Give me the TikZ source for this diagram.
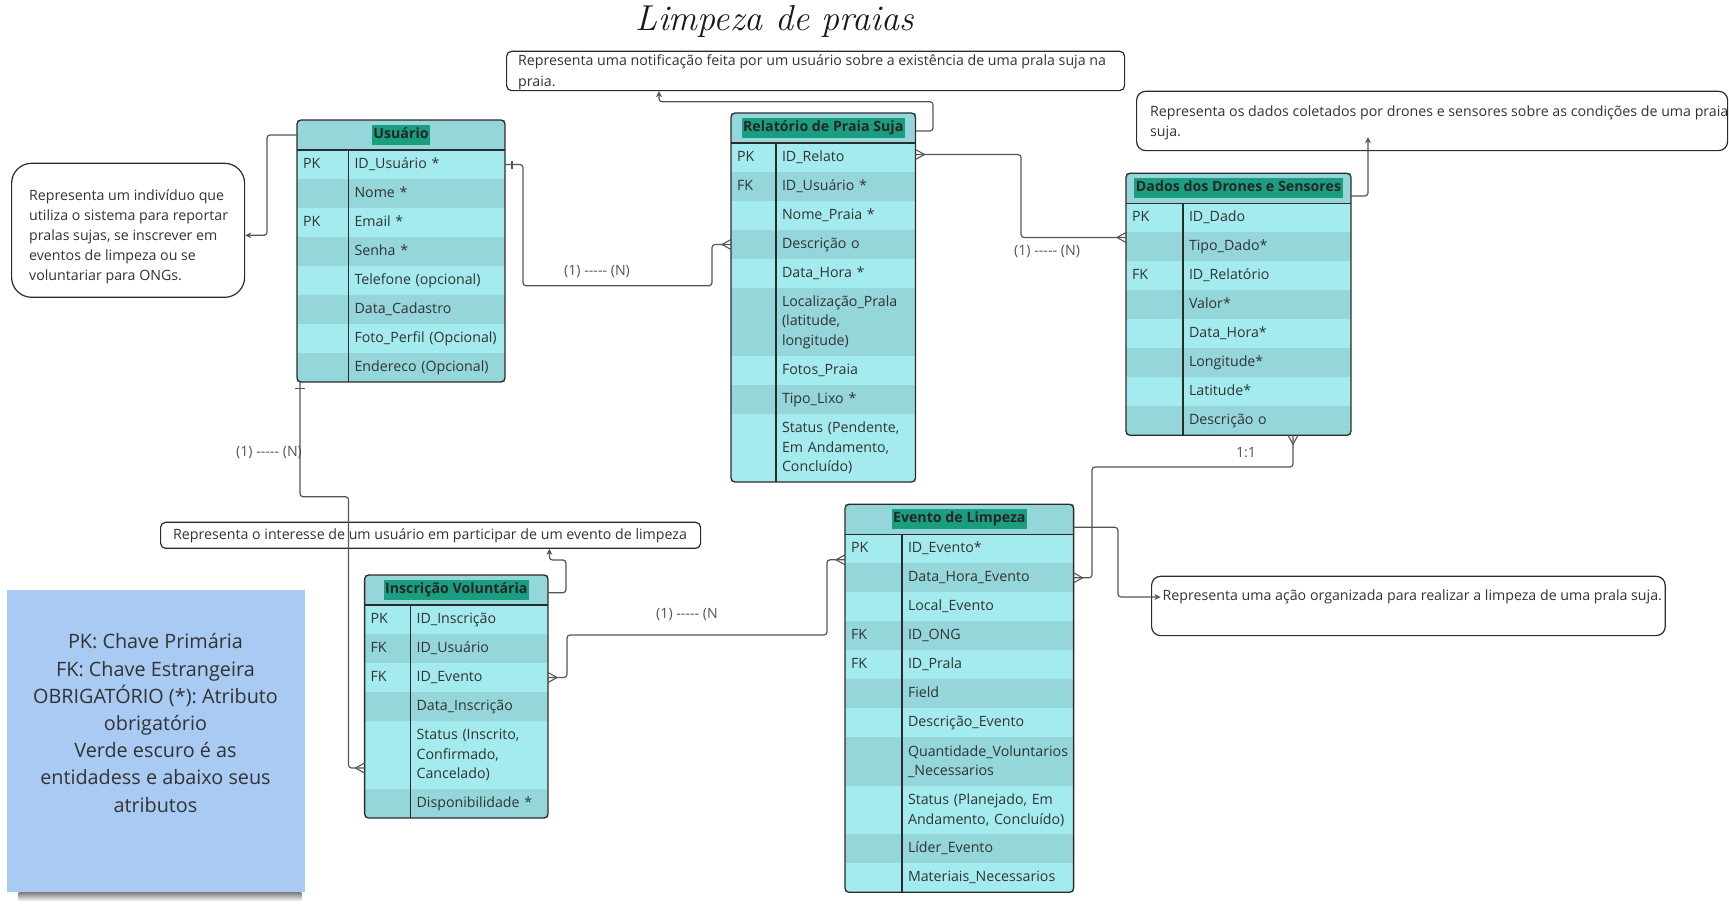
\documentclass[tikz,border=0pt]{standalone}
\usepackage{fontspec}
\newfontfamily\osans{Open Sans}
\usetikzlibrary{positioning,arrows.meta}
\frenchspacing

\definecolor{rowlt}{HTML}{A3EBEF}
\definecolor{rowdk}{HTML}{94D6DA}
\definecolor{hl}{HTML}{1B9E80}
\definecolor{ink}{HTML}{333333}
\definecolor{edge}{HTML}{2B2B2B}
\definecolor{wire}{HTML}{555555}
\definecolor{lgblue}{HTML}{A9CBF3}

\newcommand\cellfont{\osans\fontsize{14.2}{19.5}\selectfont}
\newcommand\notefont{\osans\fontsize{14.2}{20.2}\selectfont}
\newcommand\stickyfont{\osans\fontsize{19.8}{27.2}\selectfont}

\tikzset{
  cell/.style={anchor=north west, inner xsep=6pt, inner ysep=0pt, outer sep=0pt, minimum height=29pt,
    align=left, font=\cellfont, text=ink},
  one/.style={cell, text height=10.5pt, text depth=3.3pt},
  tall/.style={minimum height=68pt},
  mid/.style={minimum height=48.5pt},
  lt/.style={fill=rowlt},
  dk/.style={fill=rowdk},
  hdr/.style={fill=rowdk, anchor=north west, minimum height=30pt, inner sep=0pt, outer sep=0pt},
  ttl/.style={fill=hl, font=\cellfont\bfseries, text=black!85, inner xsep=1.5pt, inner ysep=3pt,
    text height=10.5pt, text depth=3.3pt},
  boxline/.style={draw=edge, line width=1.3pt, rounded corners=4pt},
  rule/.style={draw=edge, line width=1.2pt},
  ku/.style={text width=39.5pt}, vu/.style={text width=144.5pt},
  kr/.style={text width=33pt},   vr/.style={text width=127.5pt},
  ks/.style={text width=45pt},   vs/.style={text width=156pt},
  ke/.style={text width=45pt},   ve/.style={text width=159.6pt},
  ki/.style={text width=34pt},   vi/.style={text width=125.4pt},
  notebox/.style={draw=edge, line width=1.2pt, fill=white, anchor=north west, inner sep=0pt},
  notetext/.style={font=\notefont, text=ink, align=left, anchor=west, inner sep=0pt},
  sticky/.style={fill=lgblue, anchor=north west, inner sep=0pt},
  link/.style={draw=wire, line width=1.2pt, rounded corners=3pt},
  pointer/.style={-{Stealth[length=6pt,width=6pt]}},
  onemark/.style={draw=wire, line width=1.1pt},
  card/.style={font=\cellfont, text=wire, inner sep=1pt},
  crow/.pic={\draw[wire, line width=1.1pt] (0,-5) -- (-9,0) -- (0,5);},
}

\begin{document}
\begin{tikzpicture}[x=1pt,y=-1pt]
  \useasboundingbox (0,0) rectangle (1729,903);

  \node[font=\fontsize{36}{38}\selectfont\itshape, text=black!90, anchor=base] (title) at (775,30) {Limpeza de praias};

  % notas
  \node[notebox, minimum width=618pt, minimum height=39.3pt, rounded corners=5pt] (nR) at (506,50.7) {};
  \node[notetext] (nRt) at (518,72.25) {Representa uma notificação feita por um usuário sobre a existência de uma prala suja na\\praia.};
  \node[notebox, minimum width=233pt, minimum height=134pt, rounded corners=20pt] (nU) at (11,162.7) {};
  \node[notetext] (nUt) at (29,236.75) {Representa um indivíduo que\\utiliza o sistema para reportar\\pralas sujas, se inscrever em\\eventos de limpeza ou se\\voluntariar para ONGs.};
  \node[notebox, minimum width=591pt, minimum height=59.3pt, rounded corners=9pt] (nD) at (1136,90.7) {};
  \node[notetext] (nDt) at (1150,122.6) {Representa os dados coletados por drones e sensores sobre as condições de uma praia\\suja.};
  \node[notebox, minimum width=540pt, minimum height=26pt, rounded corners=5pt] (nI) at (160,521.7) {};
  \node[notetext] (nIt) at (173,536) {Representa o interesse de um usuário em participar de um evento de limpeza};
  \node[notebox, minimum width=513.6pt, minimum height=59.3pt, rounded corners=9pt] (nE) at (1151,575.7) {};
  \node[notetext] (nEt) at (1162.5,597) {Representa uma ação organizada para realizar a limpeza de uma prala suja.};

  % legenda
  \node[sticky, minimum width=298.3pt, minimum height=302pt] (lg) at (6.7,590) {};
  \shade[top color=black!50, bottom color=white] ([xshift=12]lg.south west) rectangle ([xshift=-4,yshift=-9]lg.south east);
  \node[font=\stickyfont, text=ink, align=center] (lgt) at (155.5,723) {PK: Chave Primária\\FK: Chave Estrangeira\\OBRIGATÓRIO (*): Atributo\\obrigatório\\Verde escuro é as\\entidadess e abaixo seus\\atributos};

  % Usuario
  \node[hdr, minimum width=208pt] (uh) at (297,120) {};
  \node[ttl] (uht) at (uh) {Usuário};
  \node[one,lt,ku,below right=0pt and 0pt of uh.south west] (uk1) {PK};
  \node[one,lt,vu,right=0pt of uk1] (u1) {ID\_Usuário *};
  \node[one,dk,ku,below=0pt of uk1] (uk2) {};
  \node[one,dk,vu,right=0pt of uk2] (u2) {Nome *};
  \node[one,lt,ku,below=0pt of uk2] (uk3) {PK};
  \node[one,lt,vu,right=0pt of uk3] (u3) {Email *};
  \node[one,dk,ku,below=0pt of uk3] (uk4) {};
  \node[one,dk,vu,right=0pt of uk4] (u4) {Senha *};
  \node[one,lt,ku,below=0pt of uk4] (uk5) {};
  \node[one,lt,vu,right=0pt of uk5] (u5) {Telefone (opcional)};
  \node[one,dk,ku,below=0pt of uk5] (uk6) {};
  \node[one,dk,vu,right=0pt of uk6] (u6) {Data\_Cadastro};
  \node[one,lt,ku,below=0pt of uk6] (uk7) {};
  \node[one,lt,vu,right=0pt of uk7] (u7) {Foto\_Perfil (Opcional)};
  \node[one,dk,ku,below=0pt of uk7] (uk8) {};
  \node[one,dk,vu,right=0pt of uk8] (u8) {Endereco (Opcional)};
  \draw[boxline] (uh.north west) rectangle (u8.south east);
  \draw[rule] (uh.south west) -- (uh.south east);
  \draw[rule] (uk1.north east) -- (uk8.south east);

  % Relatorio de Praia Suja
  \node[hdr, minimum width=184.5pt] (rh) at (731,113) {};
  \node[ttl] (rht) at (rh) {Relatório de Praia Suja};
  \node[one,lt,kr,below right=0pt and 0pt of rh.south west] (rk1) {PK};
  \node[one,lt,vr,right=0pt of rk1] (r1) {ID\_Relato};
  \node[one,dk,kr,below=0pt of rk1] (rk2) {FK};
  \node[one,dk,vr,right=0pt of rk2] (r2) {ID\_Usuário *};
  \node[one,lt,kr,below=0pt of rk2] (rk3) {};
  \node[one,lt,vr,right=0pt of rk3] (r3) {Nome\_Praia *};
  \node[one,dk,kr,below=0pt of rk3] (rk4) {};
  \node[one,dk,vr,right=0pt of rk4] (r4) {Descrição o};
  \node[one,lt,kr,below=0pt of rk4] (rk5) {};
  \node[one,lt,vr,right=0pt of rk5] (r5) {Data\_Hora *};
  \node[cell,dk,kr,tall,below=0pt of rk5] (rk6) {};
  \node[cell,dk,vr,tall,right=0pt of rk6] (r6) {Localização\_Prala\\(latitude,\\longitude)};
  \node[one,lt,kr,below=0pt of rk6] (rk7) {};
  \node[one,lt,vr,right=0pt of rk7] (r7) {Fotos\_Praia};
  \node[one,dk,kr,below=0pt of rk7] (rk8) {};
  \node[one,dk,vr,right=0pt of rk8] (r8) {Tipo\_Lixo *};
  \node[cell,lt,kr,tall,below=0pt of rk8] (rk9) {};
  \node[cell,lt,vr,tall,right=0pt of rk9] (r9) {Status (Pendente,\\Em Andamento,\\Concluído)};
  \draw[boxline] (rh.north west) rectangle (r9.south east);
  \draw[rule] (rh.south west) -- (rh.south east);
  \draw[rule] (rk1.north east) -- (rk9.south east);

  % Dados dos Drones e Sensores
  \node[hdr, minimum width=225pt] (sh) at (1126,173.3) {};
  \node[ttl] (sht) at (sh) {Dados dos Drones e Sensores};
  \node[one,lt,ks,below right=0pt and 0pt of sh.south west] (sk1) {PK};
  \node[one,lt,vs,right=0pt of sk1] (s1) {ID\_Dado};
  \node[one,dk,ks,below=0pt of sk1] (sk2) {};
  \node[one,dk,vs,right=0pt of sk2] (s2) {Tipo\_Dado*};
  \node[one,lt,ks,below=0pt of sk2] (sk3) {FK};
  \node[one,lt,vs,right=0pt of sk3] (s3) {ID\_Relatório};
  \node[one,dk,ks,below=0pt of sk3] (sk4) {};
  \node[one,dk,vs,right=0pt of sk4] (s4) {Valor*};
  \node[one,lt,ks,below=0pt of sk4] (sk5) {};
  \node[one,lt,vs,right=0pt of sk5] (s5) {Data\_Hora*};
  \node[one,dk,ks,below=0pt of sk5] (sk6) {};
  \node[one,dk,vs,right=0pt of sk6] (s6) {Longitude*};
  \node[one,lt,ks,below=0pt of sk6] (sk7) {};
  \node[one,lt,vs,right=0pt of sk7] (s7) {Latitude*};
  \node[one,dk,ks,below=0pt of sk7] (sk8) {};
  \node[one,dk,vs,right=0pt of sk8] (s8) {Descrição o};
  \draw[boxline] (sh.north west) rectangle (s8.south east);
  \draw[rule] (sh.south west) -- (sh.south east);
  \draw[rule] (sk1.north east) -- (sk8.south east);

  % Evento de Limpeza
  \node[hdr, minimum width=228.6pt] (eh) at (845,504.3) {};
  \node[ttl] (eht) at (eh) {Evento de Limpeza};
  \node[one,lt,ke,below right=0pt and 0pt of eh.south west] (ek1) {PK};
  \node[one,lt,ve,right=0pt of ek1] (e1) {ID\_Evento*};
  \node[one,dk,ke,below=0pt of ek1] (ek2) {};
  \node[one,dk,ve,right=0pt of ek2] (e2) {Data\_Hora\_Evento};
  \node[one,lt,ke,below=0pt of ek2] (ek3) {};
  \node[one,lt,ve,right=0pt of ek3] (e3) {Local\_Evento};
  \node[one,dk,ke,below=0pt of ek3] (ek4) {FK};
  \node[one,dk,ve,right=0pt of ek4] (e4) {ID\_ONG};
  \node[one,lt,ke,below=0pt of ek4] (ek5) {FK};
  \node[one,lt,ve,right=0pt of ek5] (e5) {ID\_Prala};
  \node[one,dk,ke,below=0pt of ek5] (ek6) {};
  \node[one,dk,ve,right=0pt of ek6] (e6) {Field};
  \node[one,lt,ke,below=0pt of ek6] (ek7) {};
  \node[one,lt,ve,right=0pt of ek7] (e7) {Descrição\_Evento};
  \node[cell,dk,ke,mid,below=0pt of ek7] (ek8) {};
  \node[cell,dk,ve,mid,right=0pt of ek8] (e8) {Quantidade\_Voluntarios\\\_Necessarios};
  \node[cell,lt,ke,mid,below=0pt of ek8] (ek9) {};
  \node[cell,lt,ve,mid,right=0pt of ek9] (e9) {Status (Planejado, Em\\Andamento, Concluído)};
  \node[one,dk,ke,below=0pt of ek9] (ek10) {};
  \node[one,dk,ve,right=0pt of ek10] (e10) {Líder\_Evento};
  \node[one,lt,ke,below=0pt of ek10] (ek11) {};
  \node[one,lt,ve,right=0pt of ek11] (e11) {Materiais\_Necessarios};
  \draw[boxline] (eh.north west) rectangle (e11.south east);
  \draw[rule] (eh.south west) -- (eh.south east);
  \draw[rule] (ek1.north east) -- (ek11.south east);

  % Inscricao Voluntaria
  \node[hdr, minimum width=183.4pt] (ih) at (364.6,575) {};
  \node[ttl] (iht) at (ih) {Inscrição Voluntária};
  \node[one,lt,ki,below right=0pt and 0pt of ih.south west] (ik1) {PK};
  \node[one,lt,vi,right=0pt of ik1] (i1) {ID\_Inscrição};
  \node[one,dk,ki,below=0pt of ik1] (ik2) {FK};
  \node[one,dk,vi,right=0pt of ik2] (i2) {ID\_Usuário};
  \node[one,lt,ki,below=0pt of ik2] (ik3) {FK};
  \node[one,lt,vi,right=0pt of ik3] (i3) {ID\_Evento};
  \node[one,dk,ki,below=0pt of ik3] (ik4) {};
  \node[one,dk,vi,right=0pt of ik4] (i4) {Data\_Inscrição};
  \node[cell,lt,ki,tall,below=0pt of ik4] (ik5) {};
  \node[cell,lt,vi,tall,right=0pt of ik5] (i5) {Status (Inscrito,\\Confirmado,\\Cancelado)};
  \node[one,dk,ki,below=0pt of ik5] (ik6) {};
  \node[one,dk,vi,right=0pt of ik6] (i6) {Disponibilidade *};
  \draw[boxline] (ih.north west) rectangle (i6.south east);
  \draw[rule] (ih.south west) -- (ih.south east);
  \draw[rule] (ik1.north east) -- (ik6.south east);

  % ligacoes
  \draw[link,pointer] (uh.west) -- ++(-30,0) |- ([yshift=-5]nU.east);
  \draw[link,pointer] ([yshift=-3]rh.east) -- (933,131) |- (659,101.7) -- ([xshift=153]nR.south west);
  \draw[link,pointer] ([yshift=-7.7]sh.east) -| ([xshift=232,yshift=14]nD.south west);
  \draw[link,pointer] ([yshift=-8]eh.east) -| (1118,597) -- ([xshift=-2]nEt.west);
  \draw[link,pointer] ([yshift=-2.7]ih.east) -- ++(18,0) |- (549.4,560) -- ([xshift=389.4]nI.south west);

  \draw[link] (u1.east) -- (523,164.5) |- (712,285.7) |- (rk4.west);
  \draw[onemark] ([xshift=7,yshift=4]u1.east) -- ([xshift=7,yshift=-4]u1.east);
  \pic at (rk4.west) {crow};
  \node[card] (l1) at (597,272) {(1) -{}-{}-{}-{}- (N)};

  \draw[link] ([xshift=3]uk8.south west) |- (348.5,496.7) |- ([yshift=-13]ik5.west);
  \draw[onemark] ([xshift=-2,yshift=-6.3]uk8.south west) -- ([xshift=8,yshift=-6.3]uk8.south west);
  \pic at ([yshift=-13]ik5.west) {crow};
  \node[card] (l2) at (269,453) {(1) -{}-{}-{}-{}- (N)};

  \draw[link] ([yshift=3]r1.east) -| (1021,237.5) -- ([yshift=9.3]sk2.west);
  \pic[rotate=180] at ([yshift=3]r1.east) {crow};
  \pic at ([yshift=9.3]sk2.west) {crow};
  \node[card] (l3) at (1047,252) {(1) -{}-{}-{}-{}- (N)};

  \draw[link] ([xshift=26]s8.south) |- (1092,467) |- (e2.east);
  \pic[rotate=90] at ([xshift=26]s8.south) {crow};
  \pic[rotate=180] at (e2.east) {crow};
  \node[card] (l4) at (1246,453) {1:1};

  \draw[link] (i3.east) -- (567,677.5) |- (827,635) |- ([yshift=-11]ek1.west);
  \pic[rotate=180] at (i3.east) {crow};
  \pic at ([yshift=-11]ek1.west) {crow};
  \node[card] (l5) at (687,615) {(1) -{}-{}-{}-{}- (N};
\end{tikzpicture}
\end{document}
